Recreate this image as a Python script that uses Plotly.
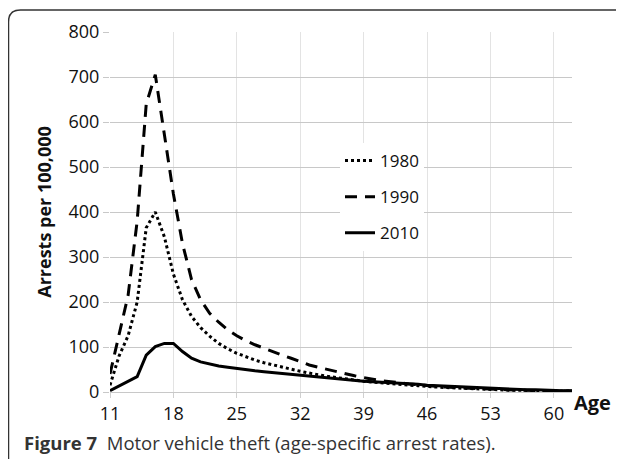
import plotly.graph_objects as go

ages = list(range(11, 63))

rate_1980 = [15, 80, 125, 200, 365, 400, 345, 262, 205, 168,
             143, 124, 108, 96, 86, 78, 71, 65, 60, 55,
             50, 46, 42, 38, 35, 32, 29, 27, 24, 22,
             20, 18, 17, 15, 14, 12, 11, 10, 9, 8,
             7, 6, 5, 5, 4, 4, 3, 3, 3, 2,
             2, 2]
rate_1990 = [40, 125, 215, 380, 640, 705, 575, 440, 330, 250,
             205, 175, 155, 138, 125, 114, 105, 97, 90, 82,
             75, 67, 60, 55, 50, 45, 41, 36, 32, 28,
             25, 23, 20, 18, 16, 14, 12, 11, 10, 9,
             8, 7, 6, 5, 5, 4, 4, 3, 3, 3,
             2, 2]
rate_2010 = [3, 13, 23, 34, 82, 101, 108, 108, 90, 75,
             67, 62, 58, 55, 52, 50, 47, 45, 43, 41,
             39, 37, 35, 33, 31, 29, 27, 26, 24, 23,
             22, 21, 19, 18, 17, 15, 14, 13, 12, 11,
             10, 9, 8, 7, 6, 6, 5, 5, 4, 4,
             3, 3]

series = [("1980", rate_1980, "3px,3px"),
          ("1990", rate_1990, "12px,8px"),
          ("2010", rate_2010, "solid")]
x_ticks = [11, 18, 25, 32, 39, 46, 53, 60]

FONT = "Open Sans"

fig = go.Figure()
for name, vals, dash in series:
    fig.add_trace(go.Scatter(
        x=ages, y=vals, name=name, mode="lines", legendgroup=name,
        line=dict(color="black", width=3, dash=dash)
    ))

# the page has an 8px body margin, so the figure is drawn 8px smaller
# plot area in figure pixels: x 102..564, y 24..384
W, H = 616, 451
L, R, T, B = 102, 52, 24, 67
pw, ph = W - L - R, H - T - B

def px_x(p):
    return (p - 8 - L) / pw

def px_y(p):
    return (H - B - (p - 8)) / ph

# rounded frame around the figure
x0, y0, x1, y1 = px_x(8.5), px_y(10), px_x(640), px_y(470)
rx, ry = 12 / pw, 12 / ph
frame = f"M {x0},{y1} L {x0},{y0 - ry} Q {x0},{y0} {x0 + rx},{y0} L {x1},{y0}"

fig.update_layout(
    width=W, height=H,
    margin=dict(l=L, r=R, t=T, b=B),
    paper_bgcolor="white", plot_bgcolor="white",
    font=dict(family=FONT, size=17, color="#111"),
    showlegend=True,
    legend=dict(
        x=px_x(340), y=px_y(143), xanchor="left", yanchor="top",
        bgcolor="white", traceorder="grouped", tracegroupgap=11,
        font=dict(size=17, color="#111")
    ),
    xaxis=dict(
        range=[11, 62], tickvals=x_ticks, showgrid=True, gridcolor="#e3e3e3",
        ticks="outside", ticklen=5, tickcolor="#d0d0d0", zeroline=False,
        showline=False, tickfont=dict(size=18)
    ),
    yaxis=dict(
        range=[0, 800], dtick=100, showgrid=True, gridcolor="#c8c8c8",
        ticks="outside", ticklen=6, tickcolor="#c8c8c8", zeroline=True,
        zerolinecolor="#c8c8c8", zerolinewidth=1, showline=False,
        tickfont=dict(size=18),
        title=dict(text="<b>Arrests per 100,000</b>", font=dict(size=18, color="#111"), standoff=12)
    ),
    shapes=[dict(type="path", xref="paper", yref="paper", path=frame,
                 line=dict(color="#333", width=1.5))],
    annotations=[
        dict(text="<b>Age</b>", xref="paper", yref="paper", x=px_x(572), y=px_y(403),
             xanchor="left", yanchor="middle", showarrow=False, font=dict(size=20, color="#111")),
        dict(text="<b>Figure 7</b>  Motor vehicle theft (age-specific arrest rates).",
             xref="paper", yref="paper", x=px_x(22), y=px_y(442),
             xanchor="left", yanchor="middle", showarrow=False,
             font=dict(size=18.5, color="#333")),
    ],
)

fig.write_html("out.html")
